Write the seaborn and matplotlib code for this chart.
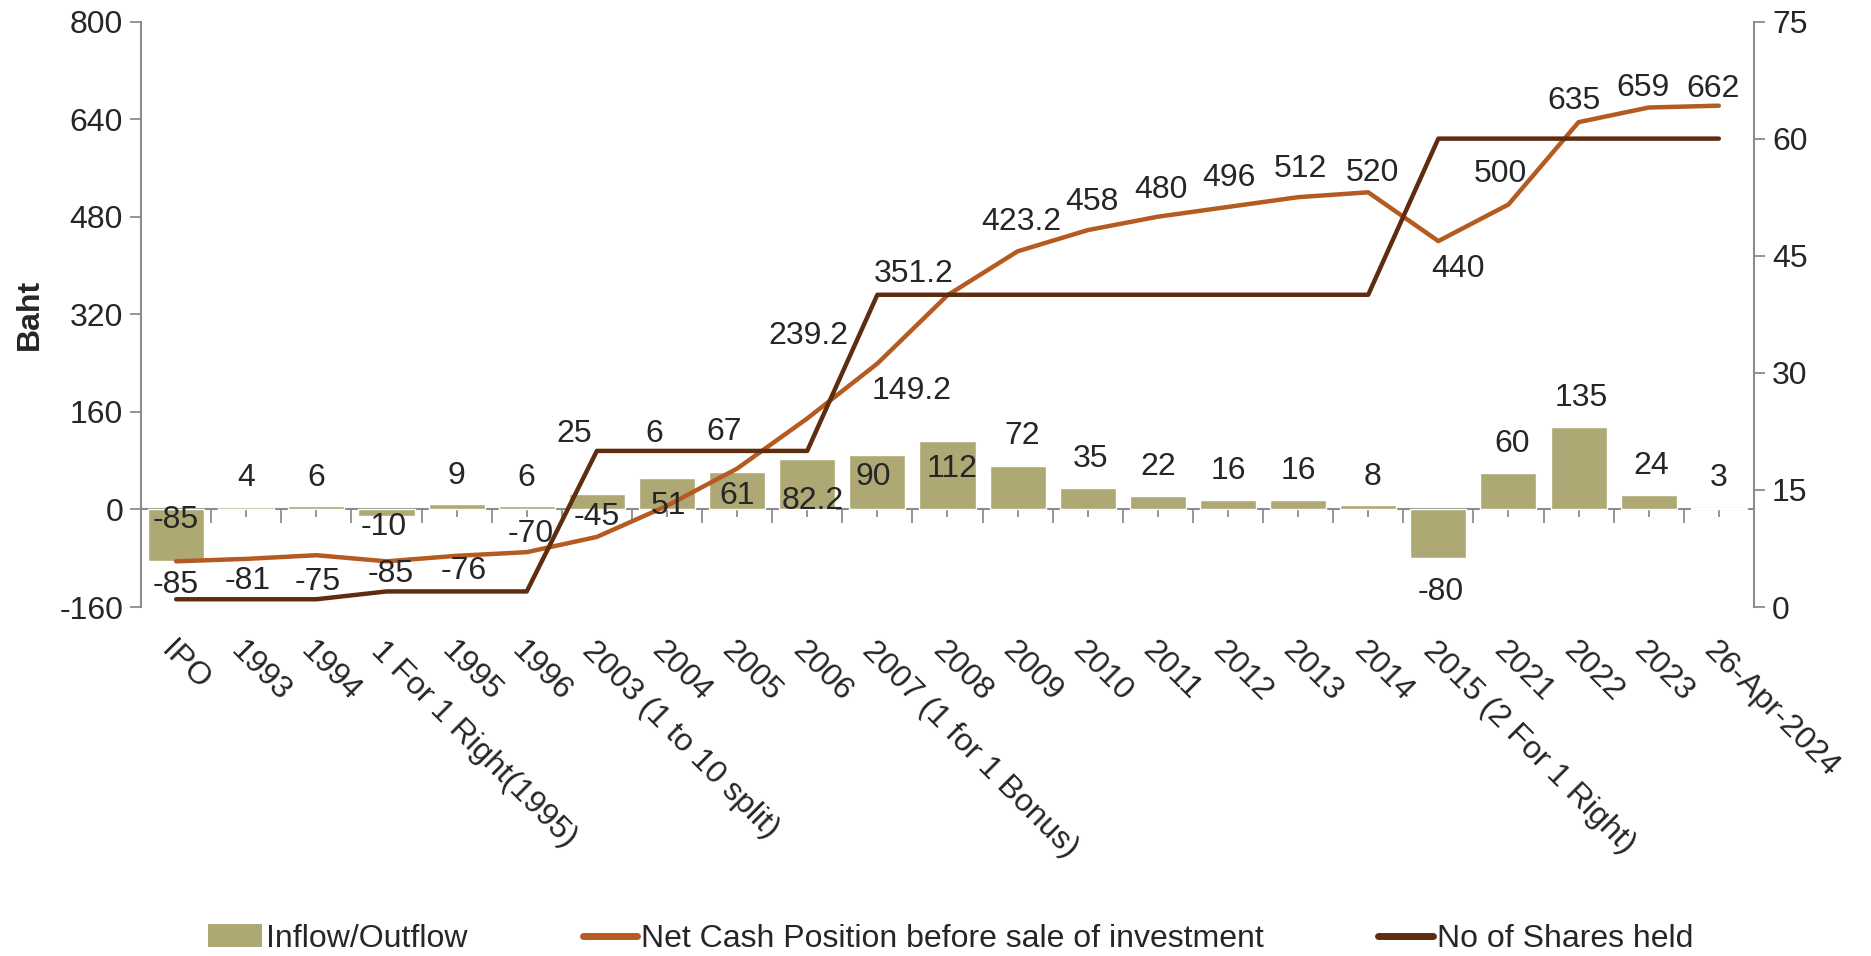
import numpy as np
import pandas as pd
import matplotlib
matplotlib.use("Agg")
import matplotlib.pyplot as plt
import seaborn as sns
from matplotlib.patches import Patch
from matplotlib.lines import Line2D

categories = ["IPO", "1993", "1994", "1 For 1 Right(1995)", "1995", "1996",
              "2003 (1 to 10 split)", "2004", "2005", "2006", "2007 (1 for 1 Bonus)",
              "2008", "2009", "2010", "2011", "2012", "2013", "2014",
              "2015 (2 For 1 Right)", "2021", "2022", "2023", "26-Apr-2024"]
inflow = [-85, 4, 6, -10, 9, 6, 25, 51, 61, 82.2, 90, 112, 72, 35, 22, 16, 16, 8,
          -80, 60, 135, 24, 3]
net_cash = [-85, -81, -75, -85, -76, -70, -45, 6, 67, 149.2, 239.2, 351.2, 423.2,
            458, 480, 496, 512, 520, 440, 500, 635, 659, 662]
shares = [1, 1, 1, 2, 2, 2, 20, 20, 20, 20, 40, 40, 40, 40, 40, 40, 40, 40,
          60, 60, 60, 60, 60]
left_ticks = [-160, 0, 160, 320, 480, 640, 800]
right_ticks = [0, 15, 30, 45, 60, 75]

# label offsets in points (dx, dy)
bar_label_offsets = [(0, 30), (0, 21), (0, 20), (-2, -8), (0, 20), (0, 20), (-16, 43),
                     (1, -20), (0, -17), (4, -30), (-3, -16), (3, -20), (3, 21), (2, 21),
                     (0, 21), (0, 21), (0, 21), (3, 20), (2, -24), (3, 21), (2, 21),
                     (2, 21), (0, 21)]
cash_label_offsets = [(0, -17), (1, -16), (1, -19), (3, -9), (5, -11), (3, 13), (0, 14),
                      (-9, 52), (-9, 26), (75, 20), (-50, 20), (-24, 15), (3, 21), (3, 20),
                      (2, 19), (1, 21), (2, 20), (3, 14), (14, -20), (-6, 22), (-3, 15),
                      (-4, 14), (-4, 12)]

BAR_C = "#ADA874"
CASH_C = "#B55A20"
SHARE_C = "#5E2D10"
TXT_C = "#262626"
AX_C = "#8C8C8C"
FS = 23

sns.set_theme(style="white")
plt.rcParams["font.family"] = ["Liberation Sans", "DejaVu Sans"]
plt.rcParams["axes.unicode_minus"] = False

fig = plt.figure(figsize=(18.71, 9.56), dpi=100)
ax = fig.add_axes([0.0754, 0.365, 0.862, 0.6125])

df = pd.DataFrame({"cat": categories, "inflow": inflow, "net": net_cash,
                   "shares": shares, "pos": np.arange(len(categories))})

sns.barplot(data=df, x="cat", y="inflow", color=BAR_C, saturation=1, width=0.8,
            ax=ax, zorder=2)
sns.lineplot(data=df, x="pos", y="net", color=CASH_C, lw=3.2, ax=ax, zorder=4)

n = len(categories)
ax.set_xlim(-0.5, n - 0.5)
ax.set_ylim(-160, 800)
ax.set_yticks(left_ticks)
ax.set_ylabel("Baht", fontsize=FS, fontweight="bold", color=TXT_C, labelpad=10)
ax.set_xlabel("")

ax.set_xticks(np.arange(n))
ax.set_xticklabels(categories, rotation=-45, ha="left", va="top",
                   rotation_mode="anchor", fontsize=FS, color=TXT_C)
ax.tick_params(axis="x", length=0, pad=21)
ax.tick_params(axis="y", labelsize=FS, labelcolor=TXT_C, length=8, width=1.3,
               color=AX_C, direction="out", left=True, pad=5)

for s in ["top", "bottom", "right"]:
    ax.spines[s].set_visible(False)
ax.spines["left"].set_color(AX_C)
ax.spines["left"].set_linewidth(1.5)

# zero axis line with ticks
zero_frac = (0 - (-160)) / (800 - (-160))
sec = ax.secondary_xaxis(zero_frac)
sec.set_xticks(np.arange(-0.5, n, 1.0))
sec.set_xticks(np.arange(0, n, 1.0), minor=True)
sec.tick_params(axis="x", which="major", length=10, width=1.3, color=AX_C,
                direction="out", labelbottom=False, labeltop=False)
sec.tick_params(axis="x", which="minor", length=6, width=1.3, color=AX_C,
                direction="out")
sec.set_xticklabels([])
sec.spines["bottom"].set_color(AX_C)
sec.spines["bottom"].set_linewidth(1.5)

ax2 = ax.twinx()
sns.lineplot(data=df, x="pos", y="shares", color=SHARE_C, lw=3.2, ax=ax2, zorder=3)
ax2.set_ylim(0, 75)
ax2.set_yticks(right_ticks)
ax2.set_ylabel("")
ax2.tick_params(axis="y", labelsize=FS, labelcolor=TXT_C, length=8, width=1.3,
                color=AX_C, direction="out", right=True, pad=5)
for s in ["top", "bottom", "left"]:
    ax2.spines[s].set_visible(False)
ax2.spines["right"].set_color(AX_C)
ax2.spines["right"].set_linewidth(1.5)
ax2.set_xlim(-0.5, n - 0.5)

def fmt(v):
    return f"{v:g}"

for i, v in enumerate(inflow):
    dx, dy = bar_label_offsets[i]
    ax.annotate(fmt(v), (i, v), xytext=(dx, dy), textcoords="offset points",
                ha="center", va="center", fontsize=FS, color=TXT_C, zorder=6)
for i, v in enumerate(net_cash):
    dx, dy = cash_label_offsets[i]
    ax.annotate(fmt(v), (i, v), xytext=(dx, dy), textcoords="offset points",
                ha="center", va="center", fontsize=FS, color=TXT_C, zorder=6)

handles = [Patch(facecolor=BAR_C, edgecolor="none"),
           Line2D([0], [0], color=CASH_C, lw=5),
           Line2D([0], [0], color=SHARE_C, lw=5)]
labels = ["Inflow/Outflow", "Net Cash Position before sale of investment",
          "No of Shares held"]
fig.legend(handles, labels, loc="center", bbox_to_anchor=(0.508, 0.018), ncol=3,
           frameon=False, fontsize=FS, handlelength=1.7, handletextpad=0.12,
           columnspacing=3.6, labelcolor=TXT_C)

fig.savefig("out.png", dpi=100)
